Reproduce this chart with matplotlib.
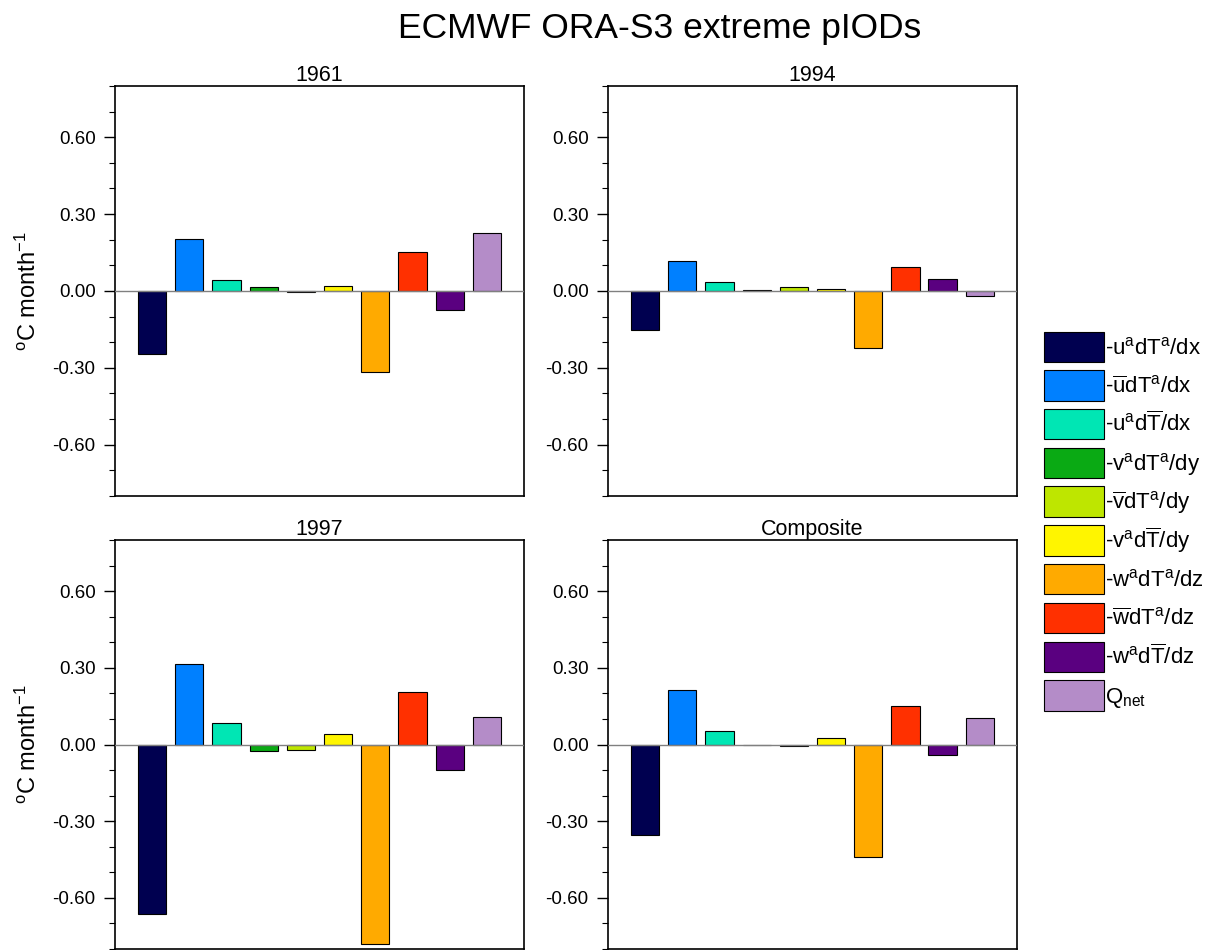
import matplotlib
matplotlib.use("Agg")
import matplotlib.pyplot as plt
from matplotlib.patches import Patch
from matplotlib.ticker import MultipleLocator

plt.rcParams.update({
    "font.family": "Liberation Sans",
    "mathtext.fontset": "custom",
    "mathtext.rm": "Liberation Sans",
    "mathtext.it": "Liberation Sans:italic",
    "mathtext.bf": "Liberation Sans:bold",
})

# Heat budget terms (legend labels) and bar colours
terms = [
    r"-u$^{\mathrm{a}}$dT$^{\mathrm{a}}$/dx",
    r"-$\overline{\mathrm{u}}$dT$^{\mathrm{a}}$/dx",
    r"-u$^{\mathrm{a}}$d$\overline{\mathrm{T}}$/dx",
    r"-v$^{\mathrm{a}}$dT$^{\mathrm{a}}$/dy",
    r"-$\overline{\mathrm{v}}$dT$^{\mathrm{a}}$/dy",
    r"-v$^{\mathrm{a}}$d$\overline{\mathrm{T}}$/dy",
    r"-w$^{\mathrm{a}}$dT$^{\mathrm{a}}$/dz",
    r"-$\overline{\mathrm{w}}$dT$^{\mathrm{a}}$/dz",
    r"-w$^{\mathrm{a}}$d$\overline{\mathrm{T}}$/dz",
    r"Q$_{\mathrm{net}}$",
]
colors = ["#000050", "#0080FF", "#00E6B4", "#0AAA14", "#BEE600",
          "#FFF500", "#FFAA00", "#FF3000", "#5A0080", "#B48CC8"]

# values (degC / month)
panel_titles = ["1961", "1994", "1997", "Composite"]
vals_1961 = [-0.244, 0.202, 0.042, 0.016, -0.004, 0.021, -0.318, 0.154, -0.074, 0.226]
vals_1994 = [-0.154, 0.116, 0.034, 0.004, 0.014, 0.009, -0.223, 0.093, 0.048, -0.021]
vals_1997 = [-0.663, 0.316, 0.083, -0.025, -0.020, 0.042, -0.780, 0.206, -0.098, 0.107]
vals_comp = [-0.352, 0.213, 0.053, -0.002, -0.004, 0.025, -0.441, 0.151, -0.040, 0.103]
panel_vals = [vals_1961, vals_1994, vals_1997, vals_comp]

fig = plt.figure(figsize=(12.13, 9.5), dpi=100)

# axes boxes in figure fraction: left, bottom, width, height
boxes = [
    [0.0948, 0.4779, 0.3372, 0.4316],
    [0.5012, 0.4779, 0.3372, 0.4316],
    [0.0948, 0.0010, 0.3372, 0.4306],
    [0.5012, 0.0010, 0.3372, 0.4306],
]
ylab = r"$^{\mathrm{o}}$C month$^{\mathrm{-1}}$"

for i, (title, vals) in enumerate(zip(panel_titles, panel_vals)):
    ax = fig.add_axes(boxes[i])
    x = list(range(1, len(vals) + 1))
    ax.bar(x, vals, width=0.76, color=colors, edgecolor="black", linewidth=0.8, zorder=2)
    ax.axhline(0, color="#808080", linewidth=1.0, zorder=3)
    ax.set_xlim(0, 11)
    ax.set_ylim(-0.8, 0.8)
    ax.set_xticks([])
    ax.yaxis.set_major_locator(MultipleLocator(0.3))
    ax.yaxis.set_minor_locator(MultipleLocator(0.1))
    ax.set_yticks([-0.6, -0.3, 0.0, 0.3, 0.6])
    ax.set_yticklabels(["-0.60", "-0.30", "0.00", "0.30", "0.60"])
    ax.tick_params(axis="y", which="major", direction="out", length=8, width=1.0,
                   labelsize=13.5, pad=6)
    ax.tick_params(axis="y", which="minor", direction="out", length=4, width=0.8)
    for sp in ax.spines.values():
        sp.set_linewidth(1.2)
    ax.set_title(title, fontsize=15.5, pad=3)
    if i % 2 == 0:
        ax.set_ylabel(ylab, fontsize=17, labelpad=8)

fig.suptitle("ECMWF ORA-S3 extreme pIODs", x=0.544, y=0.987, fontsize=25.5)

handles = [Patch(facecolor=c, edgecolor="black", linewidth=0.8) for c in colors]
fig.legend(handles, terms, loc="upper left", bbox_to_anchor=(0.861, 0.651),
           frameon=False, fontsize=16, handlelength=2.66, handleheight=1.72,
           labelspacing=0.38, handletextpad=0.05, borderpad=0, borderaxespad=0)

fig.savefig("out.png", dpi=100)
